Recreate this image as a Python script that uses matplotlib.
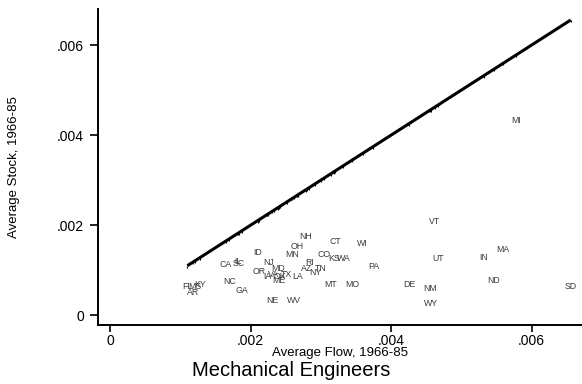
import matplotlib
matplotlib.use("Agg")
import matplotlib.pyplot as plt
import numpy as np

plt.rcParams['font.family'] = ['Liberation Sans', 'DejaVu Sans']

# State labels with average flow (x) and average stock (y), 1966-85
states = ["NH", "CT", "WI", "OH", "ID", "MN", "CO", "KS", "WA", "CA", "SC", "IL",
          "NJ", "RI", "PA", "OR", "MD", "AZ", "TN", "NY", "IA", "VA", "OK", "TX",
          "LA", "ME", "NC", "FL", "KY", "MS", "AR", "GA", "MT", "MO", "NE", "WV",
          "VT", "UT", "MA", "IN", "DE", "NM", "ND", "SD", "WY", "MI"]
flow = [0.002785, 0.003201, 0.003596, 0.002665, 0.002101, 0.002594, 0.003045, 0.003192,
        0.003320, 0.001646, 0.001836, 0.001826, 0.002253, 0.002836, 0.003747, 0.002125,
        0.002386, 0.002799, 0.003002, 0.002917, 0.002238, 0.002333, 0.002419, 0.002514,
        0.002671, 0.002405, 0.001698, 0.001100, 0.001280, 0.001210, 0.001186, 0.001874,
        0.003145, 0.003448, 0.002310, 0.002622, 0.004624, 0.004663, 0.005597, 0.005322,
        0.004254, 0.004553, 0.005464, 0.006555, 0.004567, 0.005777]
stock = [0.001745, 0.001649, 0.001598, 0.001523, 0.001383, 0.001354, 0.001345, 0.001250,
         0.001250, 0.001132, 0.001154, 0.001205, 0.001176, 0.001176, 0.001079, 0.000983,
         0.001028, 0.001028, 0.001028, 0.000954, 0.000857, 0.000895, 0.000857, 0.000910,
         0.000857, 0.000768, 0.000761, 0.000635, 0.000688, 0.000635, 0.000502, 0.000546,
         0.000673, 0.000673, 0.000324, 0.000324, 0.002093, 0.001250, 0.001465, 0.001287,
         0.000673, 0.000590, 0.000768, 0.000650, 0.000266, 0.004317]

xticks = [0, 0.002, 0.004, 0.006]
xticklabels = ["0", ".002", ".004", ".006"]
yticks = [0, 0.002, 0.004, 0.006]
yticklabels = ["0", ".002", ".004", ".006"]

fig = plt.figure(figsize=(5.82, 3.84), dpi=100)
ax = fig.add_axes([0.1679, 0.1529, 0.8321, 0.8229])

# 45-degree line through the flows
fs = np.sort(np.array(flow))
ax.plot(fs, fs, color='black', linewidth=2.2, solid_capstyle='butt',
        marker=3, markersize=1.6, markeredgewidth=0.8, markeredgecolor='black')

for s, x, y in zip(states, flow, stock):
    ax.text(x, y, s, fontsize=6.3, color='#3a3a3a', ha='center', va='center')

ax.set_xlim(-0.000175, 0.006716)
ax.set_ylim(-0.000222, 0.006793)

ax.set_xticks(xticks)
ax.set_xticklabels(xticklabels)
ax.set_yticks(yticks)
ax.set_yticklabels(yticklabels)

for side in ['top', 'right']:
    ax.spines[side].set_visible(False)
for side in ['left', 'bottom']:
    ax.spines[side].set_linewidth(1.4)

ax.tick_params(axis='both', direction='out', width=1.2, labelsize=10, colors='black')
ax.tick_params(axis='y', length=6, pad=4)
ax.tick_params(axis='x', length=5, pad=1.5)

ax.set_xlabel("Average Flow, 1966-85", fontsize=9.5, labelpad=-1)
ax.set_ylabel("Average Stock, 1966-85", fontsize=9.5)
ax.yaxis.set_label_coords(-0.16, 0.5)

fig.text(0.5, 0.036, "Mechanical Engineers", fontsize=14.5, ha='center', va='center')

fig.savefig("out.png", dpi=100)
